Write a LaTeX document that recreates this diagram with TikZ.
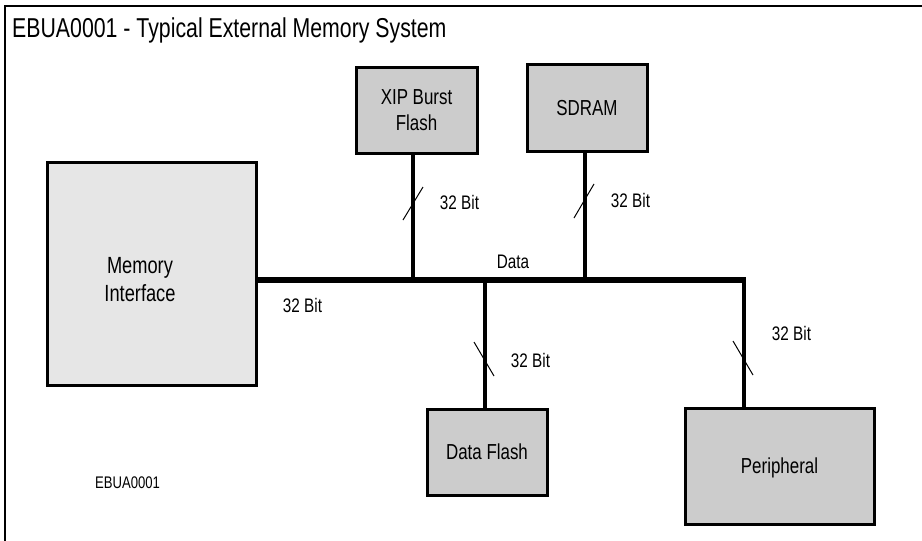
\documentclass[tikz,border=0pt]{standalone}
\usepackage{fontspec}
\usepackage{tikz}
\usetikzlibrary{calc}
\newfontfamily\diagfont{Liberation Sans}[FakeStretch=0.78]
\definecolor{unitgray}{HTML}{CCCCCC}
\definecolor{mifgray}{HTML}{E6E6E6}
\tikzset{
    unit/.style={rectangle, draw=black, line width=3pt, fill=unitgray, inner sep=0pt, align=center, text depth=0pt, font=\diagfont\fontsize{21.7}{26}\selectfont},
    buswire/.style={line width=6pt},
    branch/.style={line width=4.5pt},
    widthtick/.style={line width=1pt},
    buslabel/.style={inner sep=0pt, text depth=0pt, font=\diagfont\fontsize{19.6}{22}\selectfont}
}
\begin{document}
\begin{tikzpicture}[x=1pt, y=-1pt,
    caption/.style={inner sep=0pt, anchor=base west, font=\diagfont\fontsize{27.3}{30}\selectfont},
    figtag/.style={inner sep=0pt, text depth=0pt, font=\diagfont\fontsize{16.8}{19}\selectfont}
]
    \useasboundingbox (0,0) rectangle (922,541);
    \draw[line width=2pt] (5,541) -- (5,6) -- (922,6);

    \node[caption] (title) at (12,37) {EBUA0001 - Typical External Memory System};

    \node[unit, fill=mifgray, minimum width=209pt, minimum height=223pt] (mif) at (151.5,273.5) {};
    \node[inner sep=0pt, align=center, text depth=0pt, font=\diagfont\fontsize{23.4}{28}\selectfont] (miftext) at (140,279) {Memory\\Interface};
    \node[unit, minimum width=121pt, minimum height=86pt] (xip) at (416.5,110) {XIP Burst\\Flash};
    \node[unit, minimum width=120pt, minimum height=87pt] (sdram) at (587,107.5) {SDRAM};
    \node[unit, minimum width=120pt, minimum height=86pt] (dflash) at (487,452) {Data Flash};
    \node[unit, minimum width=189pt, minimum height=116pt] (periph) at (779.5,466) {Peripheral};

    % taps on the data bus
    \coordinate (tapxip) at (413,280);
    \coordinate (tapsdram) at (585,280);
    \coordinate (tapdflash) at (485,280);
    \coordinate (tapperiph) at (744,280);

    \draw[buswire] (mif.east |- tapxip) -- ([xshift=2.25pt]tapperiph);
    \draw[branch] (tapxip) -- (tapxip |- xip.south);
    \draw[branch] (tapsdram) -- (tapsdram |- sdram.south);
    \draw[branch] (tapdflash) -- (tapdflash |- dflash.north);
    \draw[branch] ([yshift=-3pt]tapperiph) -- (tapperiph |- periph.north);

    \draw[widthtick] (403,220) -- (423,187);
    \draw[widthtick] (574,218) -- (594,184);
    \draw[widthtick] (474,342) -- (494,376);
    \draw[widthtick] (733,341) -- (753,375);

    \node[buslabel] (lbxip) at (459.5,202) {32 Bit};
    \node[buslabel] (lbsdram) at (630.5,200) {32 Bit};
    \node[buslabel] (lbdflash) at (530.5,360) {32 Bit};
    \node[buslabel] (lbperiph) at (791.5,333) {32 Bit};
    \node[buslabel] (lbmif) at (302.5,305) {32 Bit};
    \node[buslabel] (lbdata) at (513,262) {Data};

    \node[figtag] (tag) at (127.5,483) {EBUA0001};
\end{tikzpicture}
\end{document}
